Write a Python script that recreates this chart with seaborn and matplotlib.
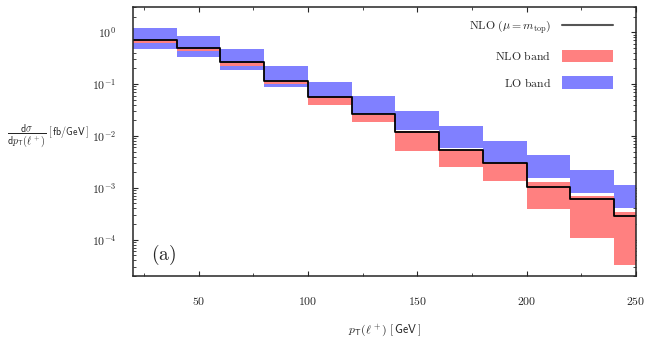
import numpy as np
import pandas as pd
import matplotlib
matplotlib.use("Agg")
import matplotlib.pyplot as plt
import seaborn as sns
from matplotlib.patches import Patch
from matplotlib.lines import Line2D
from matplotlib.ticker import LogLocator, FixedLocator, NullFormatter

# ---- data ----
bin_edges = [20, 40, 60, 80, 100, 120, 140, 160, 180, 200, 220, 240, 250]
nlo_central = [0.72, 0.505, 0.264, 0.116, 0.0564, 0.0265, 0.0119, 0.00527, 0.0030, 0.00106, 0.000597, 0.000281]
nlo_band_hi = [0.71, 0.48, 0.252, 0.113, 0.056, 0.0253, 0.0126, 0.00542, 0.0030, 0.00129, 0.00069, 0.000344]
nlo_band_lo = [0.61, 0.435, 0.226, 0.100, 0.0395, 0.0185, 0.0051, 0.00254, 0.00135, 0.000388, 0.000108, 0.0000332]
lo_band_hi = [1.21, 0.85, 0.476, 0.224, 0.110, 0.0589, 0.0303, 0.0155, 0.00797, 0.00428, 0.0022, 0.00113]
lo_band_lo = [0.476, 0.338, 0.187, 0.0891, 0.0556, 0.0265, 0.0130, 0.00576, 0.00304, 0.00156, 0.0008, 0.000411]
x_tick_labels = ["50", "100", "150", "200", "250"]
legend_labels = [r"$\mathrm{NLO}\ (\mu = m_{\mathrm{top}})$", r"$\mathrm{NLO\ band}$", r"$\mathrm{LO\ band}$"]

def ext(v):
    return list(v) + [v[-1]]

sns.set_style("ticks")
plt.rcParams["font.family"] = ["DejaVu Serif"]
plt.rcParams["mathtext.fontset"] = "cm"

fig = plt.figure(figsize=(6.49, 3.45), dpi=100)
ax = fig.add_axes([133/649, 1-276/345, 503/649, 269/345])

blue = "#8080ff"
red = "#ff8080"
ax.fill_between(bin_edges, ext(lo_band_lo), ext(lo_band_hi), step="post", color=blue, lw=0)
ax.fill_between(bin_edges, ext(nlo_band_lo), ext(nlo_band_hi), step="post", color=red, lw=0)

df = pd.DataFrame({"x": bin_edges, "y": ext(nlo_central)})
sns.lineplot(data=df, x="x", y="y", ax=ax, drawstyle="steps-post", color="black", lw=1.3)

ax.set_yscale("log")
ax.set_xlim(20, 250)
ax.set_ylim(2e-5, 3.05)

ax.xaxis.set_major_locator(FixedLocator([50, 100, 150, 200, 250]))
ax.xaxis.set_minor_locator(FixedLocator([25, 75, 125, 175, 225]))
ax.set_xticklabels(["$%s$" % t for t in x_tick_labels])
ax.yaxis.set_minor_locator(LogLocator(base=10, subs=np.arange(2, 10), numticks=20))
ax.yaxis.set_minor_formatter(NullFormatter())
ax.set_yticks([1e0, 1e-1, 1e-2, 1e-3, 1e-4])
ax.set_yticklabels([r"$10^{0}$", r"$10^{-1}$", r"$10^{-2}$", r"$10^{-3}$", r"$10^{-4}$"])

ax.tick_params(axis="both", which="both", direction="in", top=True, right=True, labelsize=8.5)
ax.tick_params(axis="both", which="major", length=3.5, width=0.8)
ax.tick_params(axis="both", which="minor", length=2, width=0.6)
ax.tick_params(axis="x", which="major", pad=14)
ax.tick_params(axis="y", which="major", pad=12)
for s in ax.spines.values():
    s.set_linewidth(1.1)

ax.set_xlabel(r"$p_\mathsf{T}(\ell^+)\ [\,\mathsf{GeV}\,]$", fontsize=8.5, labelpad=10)
ax.set_ylabel(r"$\dfrac{\mathsf{d}\sigma}{\mathsf{d}p_\mathsf{T}(\ell^+)}\ [\,\mathsf{fb/GeV}\,]$",
              fontsize=7.2, rotation=0, ha="center", va="center")
ax.yaxis.set_label_coords(-0.17, 0.52)

ax.text(0.035, 0.08, r"$\mathrm{(a)}$", transform=ax.transAxes, fontsize=14, ha="left", va="center")

handles = [Line2D([0], [0], color="#555555", lw=1.5),
           Patch(facecolor=red, edgecolor="none"),
           Patch(facecolor=blue, edgecolor="none")]
leg = ax.legend(handles, legend_labels, loc="upper right", bbox_to_anchor=(0.97, 0.985), frameon=False,
                markerfirst=False, handlelength=4.3, handleheight=1.3, labelspacing=1.12,
                fontsize=8.5, handletextpad=0.9, borderaxespad=0.3)

fig.savefig("out.png", dpi=100)
